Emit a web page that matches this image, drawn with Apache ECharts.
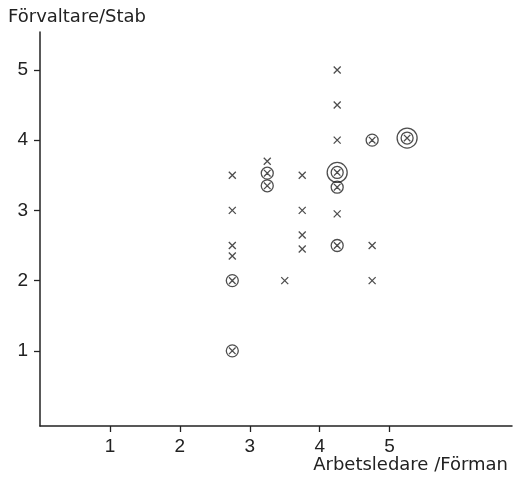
<!DOCTYPE html>
<html>
<head>
<meta charset="utf-8">
<script src="https://cdn.jsdelivr.net/npm/echarts@6/dist/echarts.min.js"></script>
<style>
    html, body { margin: 0; padding: 0; background: #fff; }
    #chart { width: 517px; height: 478px; }
</style>
</head>
<body>
<div id="chart"></div>
<script>
    // data
    var crossPts = [
        [2.75, 3.5], [2.75, 3.0], [2.75, 2.5], [2.75, 2.35],
        [3.25, 3.7], [3.5, 2.0],
        [3.75, 3.5], [3.75, 3.0], [3.75, 2.65], [3.75, 2.45],
        [4.25, 5.0], [4.25, 4.5], [4.25, 4.0], [4.25, 2.95],
        [4.75, 2.5], [4.75, 2.0]
    ];
    var circledPts = [
        [2.75, 2.0], [2.75, 1.0],
        [3.25, 3.53], [3.25, 3.35],
        [4.25, 3.33], [4.25, 2.5],
        [4.75, 4.0]
    ];
    var doublePts = [[4.25, 3.54], [5.25, 4.03]];
    var xTicks = [1, 2, 3, 4, 5];
    var yTicks = [1, 2, 3, 4, 5];

    var ink = '#222';
    var crossPath = 'path://M0,0L10,10M10,0L0,10';
    var circledPath = 'path://M0,10A10,10,0,1,1,20,10A10,10,0,1,1,0,10ZM4.5,4.5L15.5,15.5M15.5,4.5L4.5,15.5';
    var doublePath = 'path://M0,10A10,10,0,1,1,20,10A10,10,0,1,1,0,10Z' +
        'M4,10A6,6,0,1,1,16,10A6,6,0,1,1,4,10Z' +
        'M6.8,6.8L13.2,13.2M13.2,6.8L6.8,13.2';

    var markStyle = { color: 'transparent', borderColor: ink, borderWidth: 1.3 };
    var nameStyle = { fontFamily: 'DejaVu Sans', fontSize: 18, fontWeight: 'normal', color: ink };

    var chart = echarts.init(document.getElementById('chart'));
    chart.setOption({
        animation: false,
        title: [
            { text: 'Förvaltare/Stab', left: 3, top: 3, textStyle: nameStyle },
            { text: 'Arbetsledare /Förman', right: 4, top: 451, textStyle: nameStyle }
        ],
        grid: { left: 40, right: 5, top: 32, bottom: 52 },
        xAxis: {
            type: 'value', min: 0, max: 6.75,
            splitLine: { show: false },
            axisLine: { onZero: false, lineStyle: { color: ink, width: 1.5 } },
            axisTick: { customValues: xTicks, length: 6, lineStyle: { color: ink, width: 1.3 } },
            axisLabel: { customValues: xTicks, margin: 11, color: ink, fontFamily: 'Liberation Sans', fontSize: 19 }
        },
        yAxis: {
            type: 'value', min: -0.07, max: 5.54,
            splitLine: { show: false },
            axisLine: { show: true, onZero: false, lineStyle: { color: ink, width: 1.5 } },
            axisTick: { show: true, customValues: yTicks, length: 6, lineStyle: { color: ink, width: 1.3 } },
            axisLabel: { customValues: yTicks, margin: 12, color: ink, fontFamily: 'Liberation Sans', fontSize: 19 }
        },
        series: [
            { type: 'scatter', data: crossPts, symbol: crossPath, symbolSize: 7, itemStyle: markStyle, silent: true },
            { type: 'scatter', data: circledPts, symbol: circledPath, symbolSize: 12, itemStyle: markStyle, silent: true },
            { type: 'scatter', data: doublePts, symbol: doublePath, symbolSize: 20, itemStyle: markStyle, silent: true }
        ]
    });
</script>
</body>
</html>
